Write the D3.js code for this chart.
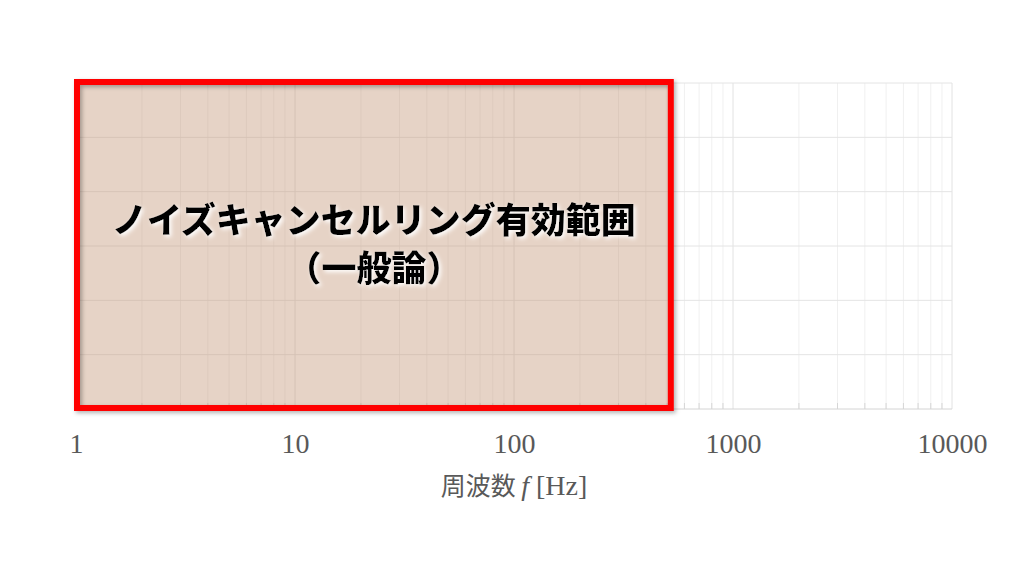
<!DOCTYPE html>
<html>
<head>
<meta charset="utf-8">
<script src="https://cdn.jsdelivr.net/npm/d3@7"></script>
<style>
  html, body { margin: 0; padding: 0; background: #fff; }
  svg { display: block; }
</style>
</head>
<body>
<svg id="chart" width="1024" height="576"></svg>
<script>
// axis range and labels
const xDomain     = [1, 10000];
const xTickValues = [1, 10, 100, 1000, 10000];
const yDomain     = [0, 6];
const yGridValues = [0, 1, 2, 3, 4, 5, 6];

// highlighted band (Hz)
const bandFrom = 1;
const bandTo   = 520;
const bandLines = ['ノイズキャンセルリング有効範囲', '（一般論）'];

const axisTitle = ['周波数 ', 'f', ' [Hz]'];

const width = 1024, height = 576;
const margin = { left: 76, right: 72, top: 83, bottom: 167 };

const svg = d3.select('#chart');
const defs = svg.append('defs');

// soft shadow for the red frame
defs.append('filter').attr('id', 'boxShadow')
  .attr('x', '-5%').attr('y', '-5%').attr('width', '110%').attr('height', '110%')
  .append('feDropShadow')
  .attr('dx', 2).attr('dy', 2).attr('stdDeviation', 2)
  .attr('flood-color', '#000').attr('flood-opacity', 0.3);

// white glow behind the label text
defs.append('filter').attr('id', 'textGlow')
  .attr('x', '-10%').attr('y', '-30%').attr('width', '120%').attr('height', '160%')
  .append('feDropShadow')
  .attr('dx', 2).attr('dy', 2).attr('stdDeviation', 2)
  .attr('flood-color', '#fff').attr('flood-opacity', 1);

const x = d3.scaleLog().domain(xDomain).range([margin.left, width - margin.right]);
const y = d3.scaleLinear().domain(yDomain).range([height - margin.bottom, margin.top]);

const [x0, x1] = x.range();
const [yb, yt] = y.range();

// minor vertical gridlines
const minor = [];
for (let d = 1; d < xDomain[1]; d *= 10) {
  for (let k = 2; k <= 9; k++) minor.push(d * k);
}

const grid = svg.append('g');
grid.selectAll('line.minor')
  .data(minor)
  .join('line')
  .attr('class', 'minor')
  .attr('x1', d => x(d)).attr('x2', d => x(d))
  .attr('y1', yt).attr('y2', yb)
  .attr('stroke', '#f0f0f0').attr('stroke-width', 1);

// short minor ticks at the bottom
grid.selectAll('line.mtick')
  .data(minor)
  .join('line')
  .attr('class', 'mtick')
  .attr('x1', d => x(d)).attr('x2', d => x(d))
  .attr('y1', yb - 6).attr('y2', yb)
  .attr('stroke', '#d6d6d6').attr('stroke-width', 1);

grid.selectAll('line.major')
  .data(xTickValues)
  .join('line')
  .attr('class', 'major')
  .attr('x1', d => x(d)).attr('x2', d => x(d))
  .attr('y1', yt).attr('y2', yb)
  .attr('stroke', '#e2e2e2').attr('stroke-width', 1);

grid.selectAll('line.h')
  .data(yGridValues)
  .join('line')
  .attr('class', 'h')
  .attr('x1', x0).attr('x2', x1)
  .attr('y1', d => y(d)).attr('y2', d => y(d))
  .attr('stroke', d => d === 0 ? '#d4d4d4' : '#e4e4e4').attr('stroke-width', 1);

// bottom axis labels
const xAxis = svg.append('g')
  .attr('transform', `translate(0,${yb + 13})`)
  .call(d3.axisBottom(x).tickValues(xTickValues).tickFormat(d3.format('d')).tickSize(0));
xAxis.select('.domain').remove();
xAxis.selectAll('text')
  .attr('dy', '1.0em')
  .attr('fill', '#595959')
  .style('font-family', '"Liberation Serif", "Times New Roman", serif')
  .style('font-size', '28px');

// axis title
const title = svg.append('text')
  .attr('x', (x0 + x1) / 2).attr('y', 495)
  .attr('text-anchor', 'middle')
  .attr('fill', '#595959');
title.append('tspan').text(axisTitle[0])
  .style('font-family', '"Noto Sans CJK JP", sans-serif').style('font-size', '25px');
title.append('tspan').text(axisTitle[1])
  .style('font-family', '"Liberation Serif", serif').style('font-style', 'italic').style('font-size', '28px');
title.append('tspan').text(axisTitle[2])
  .style('font-family', '"Liberation Serif", serif').style('font-size', '28px');

// highlighted band: fill first, then the framed outline with its shadow
const bx = x(bandFrom) + 1, bw = x(bandTo) - x(bandFrom) - 1;
svg.append('rect')
  .attr('x', bx).attr('y', yt - 1)
  .attr('width', bw).attr('height', yb - yt)
  .attr('fill', 'rgb(196,150,118)').attr('fill-opacity', 0.42);
svg.append('rect')
  .attr('x', bx).attr('y', yt - 1)
  .attr('width', bw).attr('height', yb - yt)
  .attr('fill', 'none')
  .attr('stroke', '#ff0000').attr('stroke-width', 6)
  .attr('filter', 'url(#boxShadow)');

const label = svg.append('text')
  .attr('x', bx + bw / 2).attr('y', 233)
  .attr('text-anchor', 'middle')
  .attr('fill', '#000')
  .attr('filter', 'url(#textGlow)')
  .style('font-family', '"Noto Sans CJK JP", sans-serif')
  .style('font-weight', 900)
  .style('font-size', '35px');
label.selectAll('tspan')
  .data(bandLines)
  .join('tspan')
  .attr('x', bx + bw / 2)
  .attr('dy', (d, i) => i === 0 ? 0 : 48)
  .text(d => d);
</script>
</body>
</html>
